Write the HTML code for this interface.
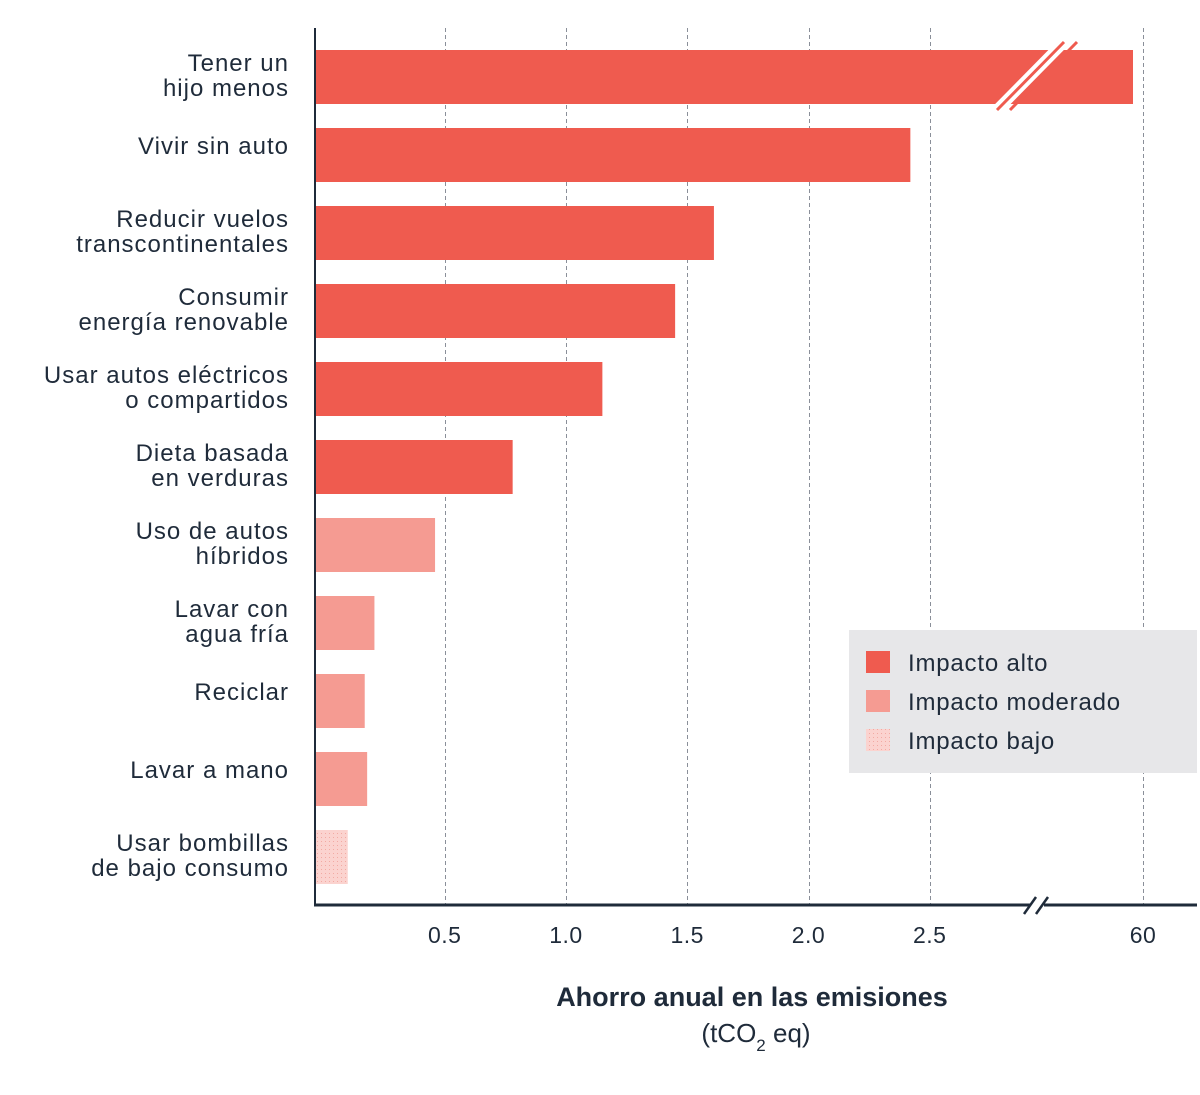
<!DOCTYPE html>
<html><head><meta charset="utf-8"><style>
body{margin:0;background:#fff;}
svg text{font-family:"Liberation Sans",sans-serif;fill:#1f2b3a;}
</style></head><body>
<svg id="chart" width="1200" height="1090" viewBox="0 0 1200 1090">
<defs>
<pattern id="dots" width="4" height="4" patternUnits="userSpaceOnUse">
<rect width="4" height="4" fill="#fbd3cf"/><rect x="1" y="1" width="1" height="1" fill="#f2aaa3"/>
</pattern>
</defs>
<g id="grid"></g>
<g id="bars"></g>
<g id="labels"></g>
<g id="axis"></g>
<g>
<rect x="849" y="630" width="348" height="143" fill="#e7e7e9"/>
<g><rect x="866" y="651" width="24" height="22" fill="#ef5b4f"/><text x="908" y="671" font-size="24" letter-spacing="0.8">Impacto alto</text></g>
<g><rect x="866" y="690" width="24" height="22" fill="#f59b92"/><text x="908" y="710" font-size="24" letter-spacing="0.8">Impacto moderado</text></g>
<g><rect x="866" y="729" width="24" height="22" fill="url(#dots)"/><text x="908" y="749" font-size="24" letter-spacing="0.8">Impacto bajo</text></g>
</g>
<text x="752" y="1006" font-size="27" font-weight="bold" text-anchor="middle">Ahorro anual en las emisiones</text>
<text x="756" y="1042" font-size="26" text-anchor="middle">(tCO<tspan font-size="17" dy="9">2</tspan><tspan dy="-9"> eq)</tspan></text>
</svg>
<script>
const categories=[["Tener un","hijo menos"],["Vivir sin auto"],["Reducir vuelos","transcontinentales"],["Consumir","energía renovable"],["Usar autos eléctricos","o compartidos"],["Dieta basada","en verduras"],["Uso de autos","híbridos"],["Lavar con","agua fría"],["Reciclar"],["Lavar a mano"],["Usar bombillas","de bajo consumo"]];
const values=[59.6,2.42,1.61,1.45,1.15,0.78,0.46,0.21,0.17,0.18,0.10];
const impact=["high","high","high","high","high","high","moderate","moderate","moderate","moderate","low"];
const tickValues=[0.5,1.0,1.5,2.0,2.5,60];
const tickLabels=["0.5","1.0","1.5","2.0","2.5","60"];
const NS="http://www.w3.org/2000/svg";
function x(v){ if(v<=3) return 323.5+242.5*v; return 1143+(v-60)*25; }
function yTop(i){ return 50+i*78; }
const colors={high:"#ef5b4f",moderate:"#f59b92",low:"url(#dots)"};
function mk(tag,attrs,parent){const e=document.createElementNS(NS,tag);for(const k in attrs)e.setAttribute(k,attrs[k]);parent.appendChild(e);return e;}
const grid=document.getElementById('grid'),bars=document.getElementById('bars'),labels=document.getElementById('labels'),axis=document.getElementById('axis');
tickValues.forEach((t,i)=>{
 const gx=Math.round(x(t))+0.5;
 const l=mk('line',{x1:gx,x2:gx,y1:28,y2:905,stroke:"#8a8f99","stroke-width":1,"stroke-dasharray":"4 3"},grid);
 
 
 const tx=mk('text',{x:x(t),y:943,"font-size":23,"text-anchor":"middle","letter-spacing":"0.5"},axis);
 tx.textContent=tickLabels[i];
 
 
});
values.forEach((v,i)=>{
 const r=mk('rect',{x:316,y:yTop(i),width:x(v)-316,height:54,fill:colors[impact[i]]},bars);
 
 
 const lines=categories[i];
 const cy=yTop(i)+27;
 const t=mk('text',{x:289,"font-size":24,"text-anchor":"end","letter-spacing":"1"},labels);
 
 
 lines.forEach((s,j)=>{const ts=mk('tspan',{x:289,y:(lines.length===1?cy-1:cy-6+j*25)},t);ts.textContent=s;});
});
// break mark on first bar
const b=yTop(0);
mk('line',{x1:997,y1:b+60,x2:1064,y2:b-8,stroke:"#fff","stroke-width":11},bars);
mk('line',{x1:997,y1:b+60,x2:1064,y2:b-8,stroke:"#ef5b4f","stroke-width":3},bars);
mk('line',{x1:1010,y1:b+60,x2:1077,y2:b-8,stroke:"#ef5b4f","stroke-width":3},bars);
// axes
const ya=mk('line',{x1:315,x2:315,y1:28,y2:906,stroke:"#1f2b3a","stroke-width":2},axis);

const xa=mk('line',{x1:314,x2:1197,y1:905,y2:905,stroke:"#1f2b3a","stroke-width":3},axis);

mk('rect',{x:1030,y:900,width:14,height:10,fill:"#fff"},axis);
mk('line',{x1:1024,y1:914,x2:1036,y2:897,stroke:"#1f2b3a","stroke-width":2.5},axis);
mk('line',{x1:1036,y1:914,x2:1048,y2:897,stroke:"#1f2b3a","stroke-width":2.5},axis);
</script>
</body></html>
